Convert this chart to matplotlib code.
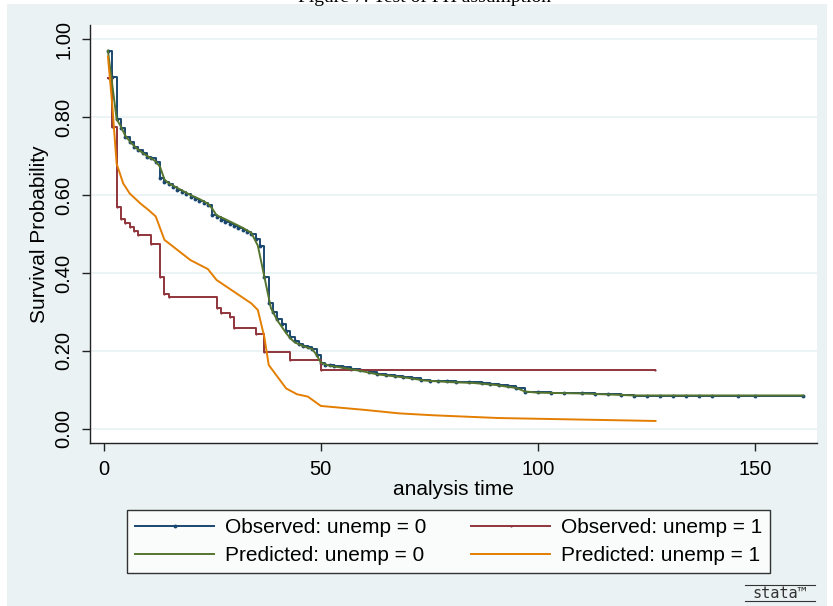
import matplotlib
matplotlib.use("Agg")
import matplotlib.pyplot as plt
from matplotlib.patches import Rectangle
from matplotlib.lines import Line2D

plt.rcParams['font.family'] = ['Liberation Sans', 'DejaVu Sans']

# observed KM, unemp = 0 (step times and survival)
obs0_t = [1, 2, 3, 4, 5, 6, 7, 8, 9, 10, 11, 12, 13, 14, 15, 16, 17, 18, 19, 20,
          21, 22, 23, 24, 25, 26, 27, 28, 29, 30, 31, 32, 33, 34, 35, 36, 37, 38,
          39, 40, 41, 42, 43, 44, 45, 46, 47, 48, 49, 50, 51, 52, 53, 55, 57, 59,
          61, 63, 65, 67, 69, 71, 73, 75, 77, 79, 81, 84, 87, 89, 91, 93, 95, 97,
          100, 103, 106, 110, 113, 116, 119, 122, 125, 128, 131, 134, 137, 140,
          146, 150, 161]
obs0_s = [0.970, 0.902, 0.795, 0.771, 0.748, 0.737, 0.724, 0.715, 0.707, 0.698,
          0.694, 0.685, 0.643, 0.634, 0.627, 0.620, 0.614, 0.608, 0.602, 0.596,
          0.590, 0.585, 0.580, 0.575, 0.549, 0.543, 0.537, 0.531, 0.526, 0.521,
          0.516, 0.511, 0.506, 0.500, 0.486, 0.468, 0.390, 0.322, 0.301, 0.283,
          0.268, 0.250, 0.236, 0.225, 0.218, 0.214, 0.211, 0.205, 0.190, 0.168,
          0.165, 0.163, 0.161, 0.158, 0.155, 0.152, 0.147, 0.140, 0.138, 0.136,
          0.134, 0.131, 0.125, 0.124, 0.123, 0.122, 0.121, 0.120, 0.117, 0.115,
          0.113, 0.110, 0.106, 0.095, 0.094, 0.093, 0.092, 0.0915, 0.090, 0.089,
          0.088, 0.0855, 0.0855, 0.0855, 0.0855, 0.0855, 0.0855, 0.0855, 0.0855,
          0.0855, 0.0855]

# observed KM, unemp = 1
obs1_t = [1, 2, 3, 4, 5, 6, 7, 8, 11, 13, 14, 15, 26, 27, 29, 30, 35, 37, 43, 50, 127]
obs1_s = [0.900, 0.775, 0.568, 0.538, 0.529, 0.519, 0.508, 0.497, 0.474, 0.389,
          0.346, 0.338, 0.311, 0.297, 0.286, 0.258, 0.243, 0.197, 0.177, 0.151, 0.151]

# predicted (Cox), unemp = 0
pred0_t = [1, 3, 4, 5, 6, 7, 8, 9, 10, 11, 12, 13, 14, 15, 17, 20, 22, 24, 25, 26,
           28, 30, 32, 34, 35.5, 37, 38.5, 40, 41, 42, 43, 44, 46, 48, 49, 50, 52,
           55, 60, 63, 70, 74, 80, 85, 90, 95, 97, 100, 110, 122, 140, 161]
pred0_s = [0.970, 0.795, 0.775, 0.752, 0.738, 0.726, 0.716, 0.708, 0.700, 0.694,
           0.686, 0.672, 0.640, 0.630, 0.618, 0.600, 0.590, 0.578, 0.565, 0.548,
           0.538, 0.527, 0.516, 0.503, 0.470, 0.390, 0.310, 0.278, 0.262, 0.246,
           0.232, 0.222, 0.212, 0.205, 0.190, 0.170, 0.162, 0.157, 0.147, 0.140,
           0.131, 0.124, 0.120, 0.118, 0.113, 0.105, 0.096, 0.093, 0.091, 0.086,
           0.086, 0.086]

# predicted (Cox), unemp = 1
pred1_t = [1, 2, 3, 4.5, 6, 8.5, 10.5, 12, 14, 20, 24, 26, 34, 35.5, 37, 38, 42,
           44.5, 47, 50, 60, 68, 76, 91, 127]
pred1_s = [0.955, 0.830, 0.680, 0.630, 0.604, 0.578, 0.560, 0.545, 0.485, 0.433,
           0.410, 0.382, 0.322, 0.305, 0.235, 0.164, 0.104, 0.089, 0.083, 0.059,
           0.049, 0.040, 0.035, 0.028, 0.0205]

yticks = [0, 0.2, 0.4, 0.6, 0.8, 1.0]
xticks = [0, 50, 100, 150]

navy = '#1a476f'
maroon = '#90353b'
green = '#55752f'
orange = '#e37e00'
bg = '#eaf2f3'

W, H = 833, 606
fig = plt.figure(figsize=(W / 100, H / 100), dpi=100, facecolor='white')
fig.patches.append(Rectangle((7 / W, 0), 820 / W, 1 - 4 / H, transform=fig.transFigure,
                             facecolor=bg, edgecolor='none', zorder=-10))
fig.text(424 / W, 1 - 1.5 / H, 'Figure 7: Test of PH assumption', ha='center', va='baseline',
         fontsize=14, family=['Liberation Serif', 'DejaVu Serif'])

ax = fig.add_axes([90.3 / W, 1 - 443 / H, (816.7 - 90.3) / W, (443 - 25) / H])
ax.set_facecolor('white')

l0, = ax.step(obs0_t, obs0_s, where='post', color=navy, lw=1.4, marker='o', ms=2.8,
              mew=0, label='Observed: unemp = 0')
l1, = ax.step(obs1_t, obs1_s, where='post', color=maroon, lw=1.4, marker='o', ms=1.6,
              mew=0, label='Observed: unemp = 1')
l2, = ax.plot(pred0_t, pred0_s, color=green, lw=1.4, label='Predicted: unemp = 0')
l3, = ax.plot(pred1_t, pred1_s, color=orange, lw=1.4, label='Predicted: unemp = 1')

ax.set_xlim(-3.06, 164.1)
ax.set_ylim(-0.036, 1.036)
ax.set_yticks(yticks)
ax.set_yticklabels(['%.2f' % v for v in yticks], rotation=90, va='center')
ax.set_xticks(xticks)
ax.yaxis.grid(True, color=bg, lw=1.3)
ax.set_axisbelow(True)
for s in ['top', 'right']:
    ax.spines[s].set_visible(False)
for s in ['left', 'bottom']:
    ax.spines[s].set_color('#222222')
    ax.spines[s].set_linewidth(1.0)
ax.tick_params(direction='out', length=6, width=1, color='#222222', labelsize=14.5, pad=6)
ax.set_xlabel('analysis time', fontsize=15, labelpad=1)
ax.set_ylabel('Survival Probability', fontsize=15, labelpad=4)

leg = fig.legend(handles=[l0, l2, l1, l3], ncol=2, loc='upper left',
                 bbox_to_anchor=(127 / W, 1 - 510 / H), borderaxespad=0, fontsize=15,
                 frameon=True, fancybox=False, edgecolor='black', handlelength=3.8,
                 handletextpad=0.5, columnspacing=2.15, borderpad=0.4, labelspacing=0.42)
leg.get_frame().set_linewidth(1.0)
leg.get_frame().set_facecolor('white')

# stata logo
fig.text(780 / W, 1 - 593 / H, 'stata\u2122', ha='center', va='center', fontsize=11,
         family='DejaVu Sans Mono', color='#333333')
fig.add_artist(Line2D([745 / W, 815 / W], [1 - 585 / H, 1 - 585 / H],
                      transform=fig.transFigure, color='#333333', lw=0.8))
fig.add_artist(Line2D([745 / W, 815 / W], [1 - 601 / H, 1 - 601 / H],
                      transform=fig.transFigure, color='#333333', lw=0.8))

fig.savefig('out.png', dpi=100, facecolor='white')
